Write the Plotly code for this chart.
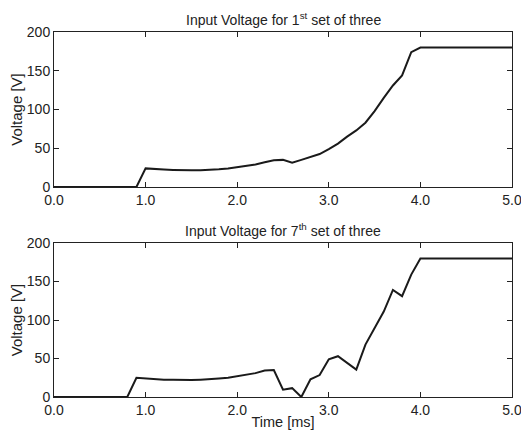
import plotly.graph_objects as go
from plotly.subplots import make_subplots

time_ms = [round(i * 0.1, 1) for i in range(51)]

voltage_set1 = [0, 0, 0, 0, 0, 0, 0, 0, 0, 0,
                24, 23, 22.5, 22, 21.5, 21.5, 21.7, 22, 23, 24,
                25.5, 27, 29, 32, 34.5, 35, 31.5, 35, 38.5, 42.5,
                49, 56, 65, 73, 83, 98, 115, 131, 144, 174,
                180, 180, 180, 180, 180, 180, 180, 180, 180, 180, 180]

voltage_set7 = [0, 0, 0, 0, 0, 0, 0, 0, 0, 25,
                24, 23, 22.5, 22.3, 22, 22, 22.5, 23, 24, 25,
                27, 29, 31, 34.5, 35, 9.5, 11.5, 0, 23, 28.5,
                49, 53, 44.5, 35.5, 68, 89.5, 111, 139, 131, 159,
                180, 180, 180, 180, 180, 180, 180, 180, 180, 180, 180]

x_ticks = [0, 1, 2, 3, 4, 5]
x_tick_labels = ["0.0", "1.0", "2.0", "3.0", "4.0", "5.0"]
y_ticks = [0, 50, 100, 150, 200]
titles = ["Input Voltage for 1<sup>st</sup> set of three",
          "Input Voltage for 7<sup>th</sup> set of three"]

FONT = "Liberation Sans, Arial, Helvetica, sans-serif"
OFF = 8  # default body margin of the page
W, H = 529 - OFF, 436 - OFF
left, right, top, bottom = 54, 512, 32, 397  # page pixels of the plot area
ml, mr, mt, mb = left - OFF, W - (right - OFF), top - OFF, H - (bottom - OFF)
plot_h = H - mt - mb

def frac(py):
    return (bottom - py) / plot_h

fig = make_subplots(rows=2, cols=1)
for row, vals in [(1, voltage_set1), (2, voltage_set7)]:
    fig.add_trace(go.Scatter(x=time_ms, y=vals, mode="lines",
                             line=dict(color="#1a1a1a", width=2),
                             showlegend=False, hoverinfo="skip"),
                  row=row, col=1)

axis_common = dict(showline=True, mirror="ticks", linecolor="#222", linewidth=1,
                   ticks="inside", ticklen=5, tickcolor="#222", showgrid=False,
                   zeroline=False, automargin=False,
                   tickfont=dict(family=FONT, size=14, color="#222"))

ytitle = dict(text="Voltage [V]", font=dict(family=FONT, size=15), standoff=0)

fig.update_layout(
    width=W, height=H,
    margin=dict(l=ml, r=mr, t=mt, b=mb),
    plot_bgcolor="white", paper_bgcolor="white",
    font=dict(family=FONT, color="#222"),
    xaxis=dict(domain=[0, 1], range=[0, 5], tickvals=x_ticks, ticktext=x_tick_labels, **axis_common),
    xaxis2=dict(domain=[0, 1], range=[0, 5], tickvals=x_ticks, ticktext=x_tick_labels,
                title=dict(text="Time [ms]", font=dict(family=FONT, size=14.5), standoff=0), **axis_common),
    yaxis=dict(domain=[frac(187), 1.0], range=[0, 200], tickvals=y_ticks, title=ytitle, **axis_common),
    yaxis2=dict(domain=[0, frac(243)], range=[0, 200], tickvals=y_ticks, title=ytitle, **axis_common),
)

for t, d in zip(titles, [1.0, frac(243)]):
    fig.add_annotation(text=t, xref="paper", yref="paper", x=0.5, y=d,
                       yanchor="bottom", yshift=2, showarrow=False,
                       font=dict(family=FONT, size=14, color="#222"))

fig.write_html("out.html")
